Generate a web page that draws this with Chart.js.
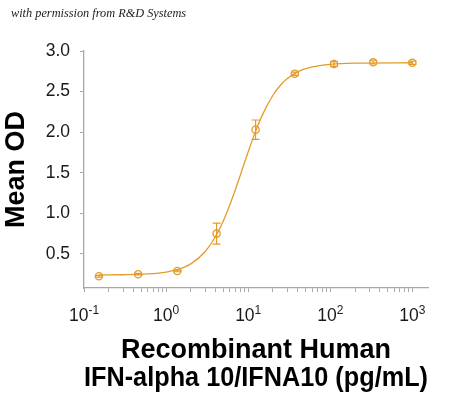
<!DOCTYPE html>
<html>
<head>
<meta charset="utf-8">
<script src="https://cdn.jsdelivr.net/npm/chart.js@4"></script>
<style>
  html, body { margin: 0; padding: 0; background: #fff; }
  #wrap { position: relative; width: 450px; height: 397px; }
  #note {
    position: absolute; left: 11px; top: 6px;
    font: italic 12.3px "Liberation Serif", "DejaVu Serif", serif;
    color: #222; white-space: nowrap;
  }
</style>
</head>
<body>
<div id="wrap">
  <canvas id="chart" width="450" height="397"></canvas>
  <div id="note">with permission from R&amp;D Systems</div>
</div>
<script>
// concentrations (pg/mL), 3-fold dilution series
const conc = [0.152, 0.457, 1.37, 4.12, 12.3, 37.0, 111, 333, 1000];
const meanOD = [0.225, 0.25, 0.29, 0.75, 2.03, 2.72, 2.84, 2.86, 2.855];
const odError = [0.01, 0.01, 0.01, 0.13, 0.12, 0.02, 0.03, 0.02, 0.02];

// fitted curve
const curveX = [0.152, 0.3, 0.6, 1, 1.5, 2, 3, 4, 5, 6, 7, 8, 10, 12, 15, 20, 25, 30, 40, 60, 100, 200, 1000];
const curveY = [0.241, 0.243, 0.253, 0.276, 0.319, 0.377, 0.53, 0.714, 0.912, 1.11, 1.297, 1.468, 1.758, 1.982, 2.219, 2.455, 2.584, 2.661, 2.742, 2.803, 2.836, 2.85, 2.855];

const yTicks = [0.5, 1.0, 1.5, 2.0, 2.5, 3.0];
const xDecades = [-1, 0, 1, 2, 3];

const orange = '#e59b2a';
const axisGray = '#a8a8a8';
const textColor = '#1a1a1a';

const errorBars = {
  id: 'errorBars',
  afterDatasetsDraw(chart) {
    const {ctx, scales: {x, y}} = chart;
    ctx.save();
    ctx.strokeStyle = orange;
    ctx.lineWidth = 1.2;
    conc.forEach((c, i) => {
      const px = x.getPixelForValue(c);
      const top = y.getPixelForValue(meanOD[i] + odError[i]);
      const bot = y.getPixelForValue(meanOD[i] - odError[i]);
      ctx.beginPath();
      ctx.moveTo(px, top); ctx.lineTo(px, bot);
      ctx.moveTo(px - 4, top); ctx.lineTo(px + 4, top);
      ctx.moveTo(px - 4, bot); ctx.lineTo(px + 4, bot);
      ctx.stroke();
    });
    ctx.restore();
  }
};

// x labels as 10 with a raised exponent
const powerLabels = {
  id: 'powerLabels',
  afterDraw(chart) {
    const {ctx, scales: {x}} = chart;
    const big = '17.5px "Liberation Sans", Arial, sans-serif';
    const small = '12px "Liberation Sans", Arial, sans-serif';
    ctx.save();
    ctx.fillStyle = textColor;
    ctx.textBaseline = 'alphabetic';
    ctx.textAlign = 'left';
    xDecades.forEach(d => {
      const px = x.getPixelForValue(Math.pow(10, d));
      const exp = String(d);
      ctx.font = big;
      const w1 = ctx.measureText('10').width;
      ctx.font = small;
      const w2 = ctx.measureText(exp).width;
      const start = px - (w1 + w2) / 2;
      ctx.font = big;
      ctx.fillText('10', start, 320.5);
      ctx.font = small;
      ctx.fillText(exp, start + w1, 313.5);
    });
    ctx.restore();
  }
};

const xTickValues = [];
xDecades.concat([4]).forEach(d => {
  for (let m = 1; m <= 9; m++) {
    const v = m * Math.pow(10, d);
    if (v >= 0.1 && v <= 1549) xTickValues.push(v);
  }
});

new Chart(document.getElementById('chart'), {
  type: 'scatter',
  data: {
    datasets: [
      {
        data: curveX.map((v, i) => ({x: v, y: curveY[i]})),
        showLine: true,
        borderColor: orange,
        borderWidth: 1.3,
        pointRadius: 0,
        cubicInterpolationMode: 'monotone'
      },
      {
        data: conc.map((v, i) => ({x: v, y: meanOD[i]})),
        showLine: false,
        pointStyle: 'circle',
        pointRadius: 3.6,
        borderColor: orange,
        borderWidth: 1.3,
        backgroundColor: 'rgba(255,255,255,0)'
      }
    ]
  },
  options: {
    responsive: false,
    animation: false,
    layout: {padding: {top: 51, right: 22, bottom: 0, left: 0}},
    plugins: {legend: {display: false}, tooltip: {enabled: false}},
    scales: {
      x: {
        type: 'logarithmic',
        min: 0.1,
        max: 1549,
        afterBuildTicks: s => { s.ticks = xTickValues.map(v => ({value: v})); },
        afterFit: s => { s.height = 109; },
        border: {color: axisGray, width: 1.3},
        grid: {drawOnChartArea: false, drawTicks: true, tickLength: 4, color: axisGray},
        ticks: {display: false},
        title: {
          display: true,
          text: ['Recombinant Human', 'IFN-alpha 10/IFNA10 (pg/mL)'],
          color: '#000',
          font: {family: '"Liberation Sans", Arial, sans-serif', size: 27, weight: 'bold', lineHeight: 1.02},
          padding: {top: 0, bottom: 5}
        }
      },
      y: {
        min: 0.08,
        max: 3.0,
        afterBuildTicks: s => { s.ticks = yTicks.map(v => ({value: v})); },
        afterFit: s => { s.width = 84; },
        border: {color: axisGray, width: 1.3},
        grid: {drawOnChartArea: false, drawTicks: true, tickLength: 4, color: axisGray},
        ticks: {
          color: textColor,
          padding: 10,
          font: {family: '"Liberation Sans", Arial, sans-serif', size: 17.5},
          callback: v => v.toFixed(1)
        },
        title: {
          display: true,
          text: 'Mean OD',
          color: '#000',
          font: {family: '"Liberation Sans", Arial, sans-serif', size: 27, weight: 'bold', lineHeight: 1.2},
          padding: {top: 0, bottom: 0}
        }
      }
    }
  },
  plugins: [errorBars, powerLabels]
});
</script>
</body>
</html>
